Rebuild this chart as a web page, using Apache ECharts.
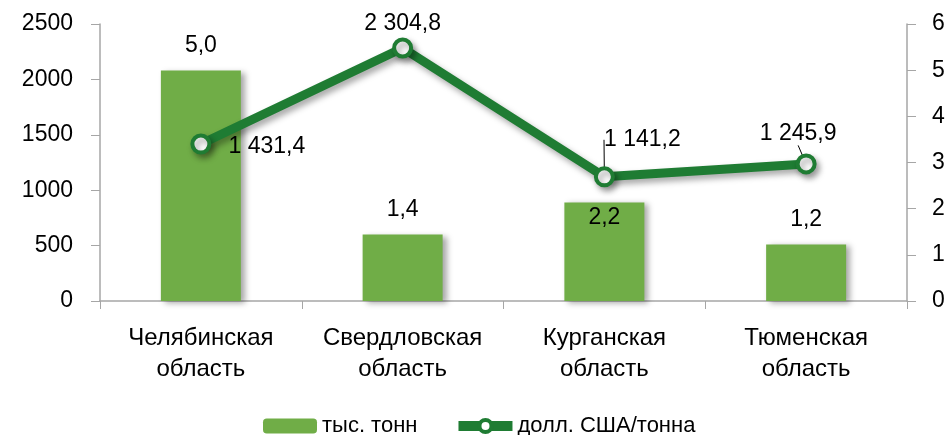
<!DOCTYPE html>
<html>
<head>
    <meta charset="utf-8" />
    <title></title>
    <script type="text/javascript" src="https://cdn.jsdelivr.net/npm/echarts@6/dist/echarts.min.js"></script>
    <style>
        html, body { margin: 0; padding: 0; background: #fff; }
        #con1 { width: 948px; height: 435px; }
    </style>
</head>
<body>
    <div id="con1"></div>
    <script type="text/javascript">
        // данные
        var regions = ['Челябинская\nобласть', 'Свердловская\nобласть', 'Курганская\nобласть', 'Тюменская\nобласть'];
        var tonnes = [2080, 600, 890, 510];           // тыс. тонн (левая ось)
        var price = [3.40, 5.48, 2.69, 2.97];         // долл. США/тонна (правая ось)
        var barLabels = ['5,0', '1,4', '2,2', '1,2'];
        var lineLabels = ['1 431,4', '2 304,8', '1 141,2', '1 245,9'];
        var leftTicks = [0, 2500, 500];
        var rightTicks = [0, 6, 1];

        var font = 'Liberation Sans, Arial, sans-serif';
        var green = '#1f7c33';

        var myChart1 = echarts.init(document.getElementById('con1'));
        var option1 = {
            backgroundColor: '#ffffff',
            animation: false,
            grid: { left: 100, right: 41, top: 24, bottom: 134 },
            legend: {
                top: 410,
                left: 258,
                itemGap: 36,
                itemWidth: 54,
                itemHeight: 15,
                textStyle: { fontFamily: font, fontSize: 22, color: '#000' },
                data: [
                    { name: 'тыс. тонн', itemStyle: { shadowBlur: 0, shadowOffsetX: 0, shadowOffsetY: 0 } },
                    { name: 'долл. США/тонна', lineStyle: { width: 10, shadowBlur: 0, shadowOffsetX: 0, shadowOffsetY: 0 },
                      itemStyle: { borderWidth: 4, shadowBlur: 0, shadowOffsetX: 0, shadowOffsetY: 0 } }
                ]
            },
            xAxis: {
                type: 'category',
                data: regions,
                axisLine: { lineStyle: { color: '#a6a6a6', width: 1.5 } },
                axisTick: { show: true, length: 8, lineStyle: { color: '#a6a6a6' } },
                axisLabel: {
                    fontFamily: font, fontSize: 24, color: '#000',
                    lineHeight: 31, margin: 22, interval: 0
                }
            },
            yAxis: [
                {
                    type: 'value',
                    min: leftTicks[0], max: leftTicks[1], interval: leftTicks[2],
                    axisLine: { show: true, lineStyle: { color: '#a6a6a6', width: 1.5 } },
                    axisTick: { show: true, length: 9, lineStyle: { color: '#a6a6a6' } },
                    splitLine: { show: false },
                    axisLabel: { fontFamily: font, fontSize: 23, color: '#000', margin: 27,
                                 formatter: function (v) { return String(v); } }
                },
                {
                    type: 'value',
                    min: rightTicks[0], max: rightTicks[1], interval: rightTicks[2],
                    position: 'right',
                    axisLine: { show: true, lineStyle: { color: '#a6a6a6', width: 1.5 } },
                    axisTick: { show: true, length: 9, lineStyle: { color: '#a6a6a6' } },
                    splitLine: { show: false },
                    axisLabel: { fontFamily: font, fontSize: 23, color: '#000', margin: 25,
                                 formatter: function (v) { return String(v); } }
                }
            ],
            series: [
                {
                    name: 'тыс. тонн',
                    type: 'bar',
                    yAxisIndex: 0,
                    barWidth: 80,
                    data: tonnes.map(function (v, i) {
                        var item = { value: v };
                        if (i === 2) {
                            item.label = { position: 'insideTop', distance: 4 };
                        }
                        return item;
                    }),
                    itemStyle: {
                        color: '#70ad47',
                        shadowColor: 'rgba(0,0,0,0.35)',
                        shadowBlur: 6,
                        shadowOffsetX: 4,
                        shadowOffsetY: 2
                    },
                    label: {
                        show: true,
                        position: 'top',
                        distance: 13,
                        fontFamily: font,
                        fontSize: 23,
                        color: '#000',
                        formatter: function (p) { return barLabels[p.dataIndex]; }
                    }
                },
                {
                    name: 'долл. США/тонна',
                    type: 'line',
                    yAxisIndex: 1,
                    data: price.map(function (v, i) {
                        var item = { value: v };
                        if (i < 2) item.labelLine = { show: false };
                        return item;
                    }),
                    symbol: 'circle',
                    symbolSize: 17,
                    z: 5,
                    lineStyle: {
                        color: green,
                        width: 9,
                        shadowColor: 'rgba(0,0,0,0.35)',
                        shadowBlur: 6,
                        shadowOffsetX: 3,
                        shadowOffsetY: 4
                    },
                    itemStyle: {
                        color: '#ffffff',
                        borderColor: green,
                        borderWidth: 4,
                        shadowColor: 'rgba(0,0,0,0.35)',
                        shadowBlur: 6,
                        shadowOffsetX: 3,
                        shadowOffsetY: 4
                    },
                    label: {
                        show: true,
                        position: 'top',
                        distance: 2,
                        fontFamily: font,
                        fontSize: 23,
                        color: '#000',
                        formatter: function (p) { return lineLabels[p.dataIndex]; }
                    },
                    labelLine: { show: true, lineStyle: { color: '#000', width: 1 } },
                    labelLayout: function (p) {
                        // смещения подписей как на исходной диаграмме
                        var offs = [[66, 27], [0, 0], [38, -13], [-8, -6]];
                        return { dx: offs[p.dataIndex][0], dy: offs[p.dataIndex][1] };
                    }
                }
            ]
        };
        option1 && myChart1.setOption(option1);
    </script>
</body>
</html>
